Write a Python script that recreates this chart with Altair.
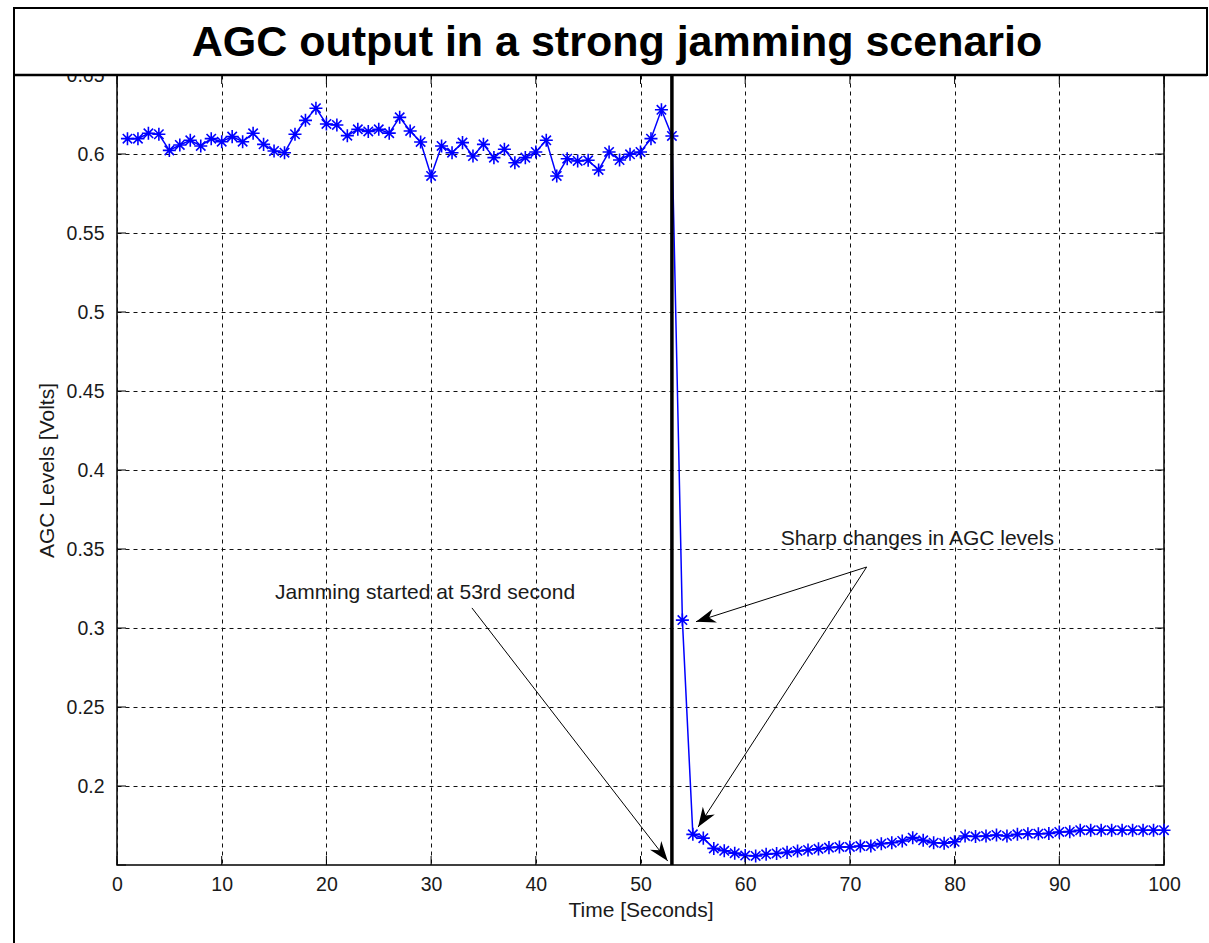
import math
import altair as alt
import pandas as pd

# ---------------- data ----------------
time_s = list(range(1, 101))
agc_v = [
    0.6097, 0.6097, 0.6131, 0.6125, 0.6023, 0.6057, 0.6087, 0.6051, 0.6097, 0.6078,
    0.6110, 0.6078, 0.6131, 0.6061, 0.6019, 0.6008, 0.6125, 0.6213, 0.6290, 0.6190,
    0.6184, 0.6116, 0.6156, 0.6143, 0.6156, 0.6132, 0.6232, 0.6146, 0.6076, 0.5861,
    0.6051, 0.6008, 0.6072, 0.5987, 0.6061, 0.5977, 0.6030, 0.5945, 0.5977, 0.6013,
    0.6087, 0.5861, 0.5970, 0.5956, 0.5960, 0.5899, 0.6013, 0.5962, 0.5998, 0.6013,
    0.6097, 0.6280, 0.6114, 0.3050, 0.1694, 0.1670, 0.1605, 0.1590, 0.1575, 0.1560,
    0.1557, 0.1568, 0.1573, 0.1580, 0.1589, 0.1595, 0.1602, 0.1610, 0.1614, 0.1614,
    0.1620, 0.1620, 0.1635, 0.1641, 0.1652, 0.1673, 0.1656, 0.1641, 0.1638, 0.1647,
    0.1684, 0.1680, 0.1684, 0.1690, 0.1684, 0.1694, 0.1698, 0.1698, 0.1700, 0.1709,
    0.1711, 0.1720, 0.1720, 0.1720, 0.1720, 0.1720, 0.1720, 0.1720, 0.1720, 0.1720,
]
jam_time = [53]
x_ticks = [0, 10, 20, 30, 40, 50, 60, 70, 80, 90, 100]
y_labels = [0.2, 0.25, 0.3, 0.35, 0.4, 0.45, 0.5, 0.55, 0.6, 0.65]
y_ticks = [0.15, 0.2, 0.25, 0.3, 0.35, 0.4, 0.45, 0.5, 0.55, 0.6, 0.65]

title_text = "AGC output in a strong jamming scenario"
x_title = "Time [Seconds]"
y_title = "AGC Levels [Volts]"

ann_text = ["Jamming started at 53rd second", "Sharp changes in AGC levels"]
ann_t = [15.1, 63.4]
ann_v = [0.3222, 0.3563]

arrow_t0 = [33.9, 71.6, 71.6]
arrow_v0 = [0.3127, 0.3386, 0.3386]
arrow_t1 = [52.6, 55.3, 55.5]
arrow_v1 = [0.1525, 0.3040, 0.1740]

# ---------------- layout ----------------
W, H = 1047, 790
PAD_L, PAD_T = 117, 75
X_DOM = [0, 100]
Y_DOM = [0.15, 0.65]
FONT = "Liberation Sans, Arial, Helvetica, sans-serif"

xs = alt.Scale(domain=X_DOM, nice=False, zero=False)
ys = alt.Scale(domain=Y_DOM, nice=False, zero=False)

df = pd.DataFrame({"t": time_s, "v": agc_v})

# arrow angles in screen space
px_t = W / (X_DOM[1] - X_DOM[0])
px_v = H / (Y_DOM[1] - Y_DOM[0])
angles = []
for a0, b0, a1, b1 in zip(arrow_t0, arrow_v0, arrow_t1, arrow_v1):
    dx = (a1 - a0) * px_t
    dy = -(b1 - b0) * px_v
    angles.append(math.degrees(math.atan2(dx, -dy)) % 360)
arrows = pd.DataFrame({"t0": arrow_t0, "v0": arrow_v0, "t1": arrow_t1, "v1": arrow_v1, "ang": angles})
ann = pd.DataFrame({"t": ann_t, "v": ann_v, "label": ann_text})

x_axis = alt.Axis(
    values=x_ticks, grid=True, gridDash=[4, 4], gridColor="#111111", gridWidth=1,
    ticks=False, domain=False, labelFontSize=19.5, labelFont=FONT, labelColor="#1a1a1a",
    labelPadding=10, labelFlush=False, title=x_title, titleFontSize=21,
    titleFontWeight="normal", titleFont=FONT, titleColor="#1a1a1a", titlePadding=6,
)
y_axis = alt.Axis(
    values=y_labels, grid=True, gridDash=[4, 4], gridColor="#111111", gridWidth=1,
    ticks=False, domain=False, labelFontSize=19.5, labelFont=FONT, labelColor="#1a1a1a",
    labelPadding=13, labelFlush=False, format=".2~f", title=y_title, titleFontSize=21,
    titleFontWeight="normal", titleFont=FONT, titleColor="#1a1a1a", titlePadding=9,
)


def X(field):
    return alt.X(field, type="quantitative", scale=xs, axis=x_axis)


def Y(field):
    return alt.Y(field, type="quantitative", scale=ys, axis=y_axis)


ASTERISK = "M-1,0L1,0M0,-1L0,1M-0.72,-0.72L0.72,0.72M-0.72,0.72L0.72,-0.72"
ARROWHEAD = "M0,0L0.65,1.8L0,1.25L-0.65,1.8Z"

line = alt.Chart(df).mark_line(color="#0000ff", strokeWidth=1.5).encode(x=X("t"), y=Y("v"))
pts = alt.Chart(df).mark_point(
    shape=ASTERISK, size=170, color="#0000ff", strokeWidth=1.6, filled=False, opacity=1
).encode(x=X("t"), y=Y("v"))
jam = alt.Chart(pd.DataFrame({"t": jam_time})).mark_rule(color="black", strokeWidth=3.5).encode(
    x=X("t")
)

xt = pd.DataFrame({"t": x_ticks})
yt = pd.DataFrame({"v": y_ticks})
TL = 9
xtick_b = alt.Chart(xt).mark_rule(color="black", strokeWidth=1).encode(
    x=X("t"), y=alt.value(H), y2=alt.value(H - TL))
xtick_t = alt.Chart(xt).mark_rule(color="black", strokeWidth=1).encode(
    x=X("t"), y=alt.value(0), y2=alt.value(TL))
ytick_l = alt.Chart(yt).mark_rule(color="black", strokeWidth=1).encode(
    y=Y("v"), x=alt.value(0), x2=alt.value(TL))
ytick_r = alt.Chart(yt).mark_rule(color="black", strokeWidth=1).encode(
    y=Y("v"), x=alt.value(W), x2=alt.value(W - TL))

arrow_lines = alt.Chart(arrows).mark_rule(color="black", strokeWidth=1).encode(
    x=X("t0"), y=Y("v0"), x2="t1:Q", y2="v1:Q",
)
arrow_heads = alt.Chart(arrows).mark_point(
    shape=ARROWHEAD, size=480, filled=True, color="black", opacity=1, strokeWidth=0
).encode(
    x=X("t1"), y=Y("v1"),
    angle=alt.Angle("ang:Q", scale=None),
)
ann_marks = alt.Chart(ann).mark_text(
    align="left", baseline="middle", fontSize=21, font=FONT, color="#1a1a1a"
).encode(x=X("t"), y=Y("v"), text="label:N")

one = pd.DataFrame({"k": [0]})
title_box = alt.Chart(one).mark_rect(fill="white", stroke="black", strokeWidth=2).encode(
    x=alt.value(14 - PAD_L), x2=alt.value(1207 - PAD_L),
    y=alt.value(8 - PAD_T), y2=alt.value(0),
)
title_mark = alt.Chart(one).mark_text(
    text=title_text, fontSize=43, fontWeight="bold", font=FONT, color="black",
    align="center", baseline="middle",
).encode(x=alt.value(617 - PAD_L), y=alt.value(43 - PAD_T))
left_border = alt.Chart(one).mark_rule(color="black", strokeWidth=2).encode(
    x=alt.value(14 - PAD_L), y=alt.value(0), y2=alt.value(943 - PAD_T))
top_edge = alt.Chart(one).mark_rule(color="black", strokeWidth=2.5).encode(
    x=alt.value(14 - PAD_L), x2=alt.value(1207 - PAD_L), y=alt.value(0))

chart = alt.layer(
    line, pts, jam, xtick_b, xtick_t, ytick_l, ytick_r,
    arrow_lines, arrow_heads, ann_marks,
    title_box, title_mark, left_border, top_edge,
).properties(
    width=W, height=H,
    autosize=alt.AutoSizeParams(type="none"),
    padding={"left": PAD_L, "top": PAD_T, "right": 1209 - PAD_L - W, "bottom": 943 - PAD_T - H},
    background="white",
).configure_view(stroke="black", strokeWidth=1.5)

chart.save("out.html", embed_options={"renderer": "svg", "actions": False})
